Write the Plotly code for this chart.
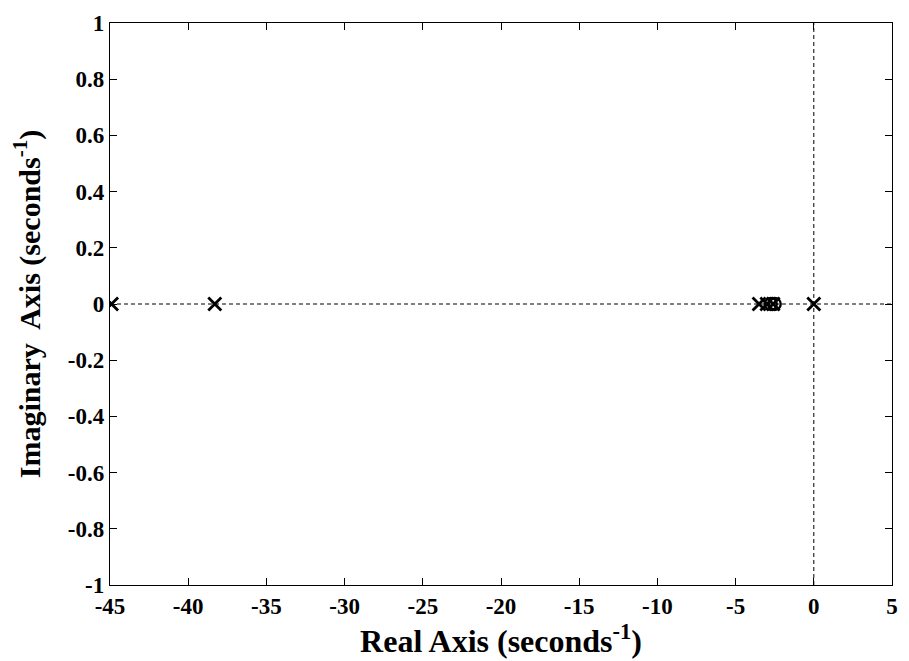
import plotly.graph_objects as go

# Pole-zero map data (seconds^-1)
pole_re = [-44.9, -38.3, -3.5, -3.0, -2.6, 0.0]
pole_im = [0, 0, 0, 0, 0, 0]
zero_re = [-2.75, -2.5]
zero_im = [0, 0]

x_ticks = [-45, -40, -35, -30, -25, -20, -15, -10, -5, 0, 5]
x_tick_text = ["-45", "-40", "-35", "-30", "-25", "-20", "-15", "-10", "-5", "0", "5"]
y_ticks = [-1, -0.8, -0.6, -0.4, -0.2, 0, 0.2, 0.4, 0.6, 0.8, 1]
y_tick_text = ["-1", "-0.8", "-0.6", "-0.4", "-0.2", "0", "0.2", "0.4", "0.6", "0.8", "1"]

font_family = "Liberation Serif"

fig = go.Figure()

# dashed reference lines through the origin
fig.add_trace(go.Scatter(x=[x_ticks[0], x_ticks[-1]], y=[0, 0], mode="lines",
                         line=dict(color="black", width=1, dash="4px,3px"),
                         hoverinfo="skip", showlegend=False))
fig.add_trace(go.Scatter(x=[0, 0], y=[y_ticks[0], y_ticks[-1]], mode="lines",
                         line=dict(color="black", width=1, dash="4px,3px"),
                         hoverinfo="skip", showlegend=False))

fig.add_trace(go.Scatter(x=zero_re, y=zero_im, mode="markers",
                         marker=dict(symbol="circle-open", size=12, color="black",
                                     line=dict(width=2.4, color="black")),
                         showlegend=False))
fig.add_trace(go.Scatter(x=pole_re, y=pole_im, mode="markers",
                         marker=dict(symbol="x-thin-open", size=13, color="black",
                                     line=dict(width=2.8, color="black")),
                         showlegend=False))

axis_common = dict(showgrid=False, zeroline=False, showline=True, linecolor="black",
                   linewidth=1.3, mirror="ticks", ticks="inside", ticklen=7,
                   tickcolor="black",
                   tickfont=dict(family=font_family, size=23, color="black",
                                 weight="bold"))

fig.update_xaxes(range=[-45, 5], tickvals=x_ticks, ticktext=x_tick_text,
                 title=dict(text="<b>Real Axis (seconds<sup>-1</sup>)</b>",
                            font=dict(family=font_family, size=32, color="black"),
                            standoff=2),
                 **axis_common)
fig.update_yaxes(range=[-1, 1], tickvals=y_ticks, ticktext=y_tick_text,
                 ticklabelstandoff=0,
                 title=dict(text="<b>Imaginary  Axis (seconds<sup>-1</sup>)</b>",
                            font=dict(family=font_family, size=30, color="black"),
                            standoff=18),
                 **axis_common)

fig.update_layout(width=909, height=661,
                  margin=dict(l=110, r=11, t=17, b=76),
                  paper_bgcolor="white", plot_bgcolor="white")

fig.write_html("out.html")
